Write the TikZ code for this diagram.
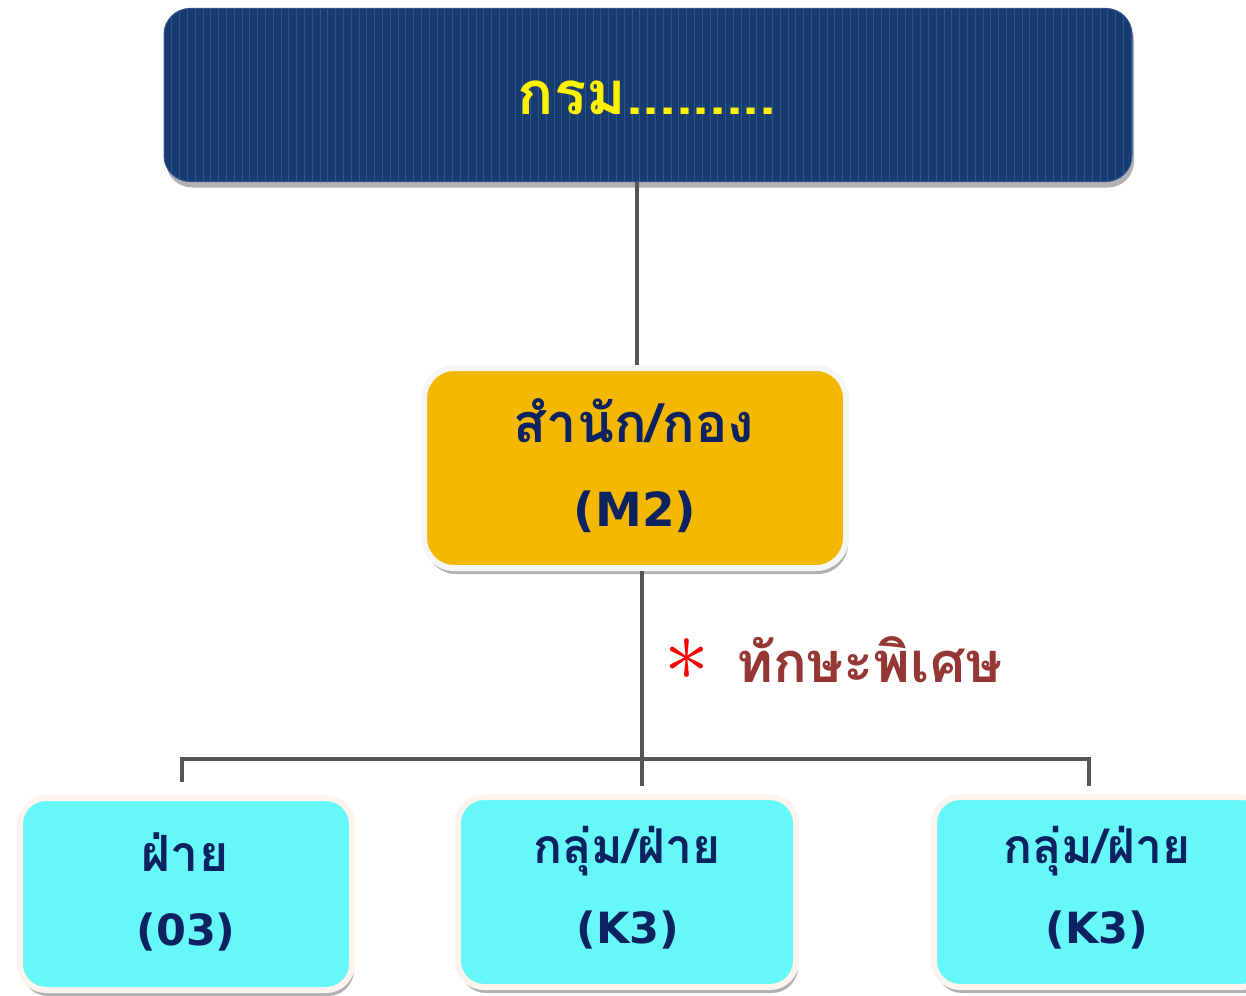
\documentclass[tikz,border=0pt]{standalone}
\usepackage{fontspec}
\newfontfamily\thai[Script=Thai]{Loma}
\newfontfamily\lat{DejaVu Sans}
\usetikzlibrary{shadows}
\definecolor{navy}{HTML}{163C70}
\definecolor{stripe}{HTML}{2C5590}
\definecolor{gold}{HTML}{F5B800}
\definecolor{cyanbox}{HTML}{66F8F8}
\definecolor{ink}{HTML}{0D2260}
\definecolor{conn}{HTML}{555555}
\definecolor{brick}{HTML}{953735}
\definecolor{rim}{HTML}{FFF3EE}
\tikzset{
  boxshadow/.style={drop shadow={shadow xshift=2pt,shadow yshift=-6pt,opacity=0.3,fill=black}},
  topbox/.style={rounded corners=26pt,fill=navy,draw=stripe,line width=1pt,boxshadow,
    path picture={\foreach \i in {0,...,124}{\draw[stripe,line width=1pt]
      ([xshift=\i*7.8pt]path picture bounding box.south west) --
      ([xshift=\i*7.8pt]path picture bounding box.north west);}}},
  midbox/.style={rounded corners=30pt,fill=gold,draw=white!93!gray,line width=6pt,boxshadow},
  lowbox/.style={rounded corners=26pt,fill=cyanbox,draw=rim,line width=6pt,boxshadow},
  boxtext/.style={text=ink,inner sep=0pt,font=\bfseries},
  connline/.style={draw=conn,line width=4pt},
}
\begin{document}
\begin{tikzpicture}[x=1pt,y=-1pt]
\useasboundingbox[fill=white] (0,0) rectangle (1246,995);
\node[topbox,minimum width=968pt,minimum height=173pt] (top) at (648,95) {};
\node[text=yellow,font=\thai\bfseries\fontsize{60}{60}\selectfont] (toptext) at (647,98) {กรม.........};
\node[midbox,minimum width=422pt,minimum height=200pt] (mid) at (635,468) {};
\node[boxtext,font=\thai\bfseries\fontsize{54}{54}\selectfont] (midA) at (634,421) {สำนัก/กอง};
\node[boxtext,font=\lat\bfseries\fontsize{47}{47}\selectfont] (midB) at (635,512) {(M2)};
\node[lowbox,minimum width=332pt,minimum height=192pt] (b1) at (186,894) {};
\node[boxtext,font=\thai\bfseries\fontsize{50}{50}\selectfont] (b1A) at (185,852) {ฝ่าย};
\node[boxtext,font=\lat\bfseries\fontsize{43}{43}\selectfont] (b1B) at (186,932) {(03)};
\node[lowbox,minimum width=338pt,minimum height=190pt] (b2) at (627,892) {};
\node[boxtext,font=\thai\bfseries\fontsize{48}{48}\selectfont] (b2A) at (627,851) {กลุ่ม/ฝ่าย};
\node[boxtext,font=\lat\bfseries\fontsize{43}{43}\selectfont] (b2B) at (628,930) {(K3)};
\node[lowbox,minimum width=334pt,minimum height=190pt] (b3) at (1101,892) {};
\node[boxtext,font=\thai\bfseries\fontsize{48}{48}\selectfont] (b3A) at (1097,851) {กลุ่ม/ฝ่าย};
\node[boxtext,font=\lat\bfseries\fontsize{43}{43}\selectfont] (b3B) at (1097,930) {(K3)};
\node[text=red,inner sep=0pt] (star) at (687,660) {\fontsize{10}{10}\selectfont\scalebox{9}{$\ast$}};
\node[anchor=west,inner sep=0pt,text=brick,font=\thai\bfseries\fontsize{56}{56}\selectfont] (note) at (736,660) {ทักษะพิเศษ};
\coordinate (j) at (642,759);
\coordinate (bl) at (182,759);
\coordinate (br) at (1089,759);
\draw[connline] (top.south -| 637,0) -- (mid.north -| 637,0);
\draw[connline] (mid.south -| j) -- ([yshift=8pt]b2.north -| j);
\draw[connline] ([yshift=13pt]b1.north -| bl) -- (bl) -- (br) -- ([yshift=8pt]b3.north -| br);
\end{tikzpicture}
\end{document}
